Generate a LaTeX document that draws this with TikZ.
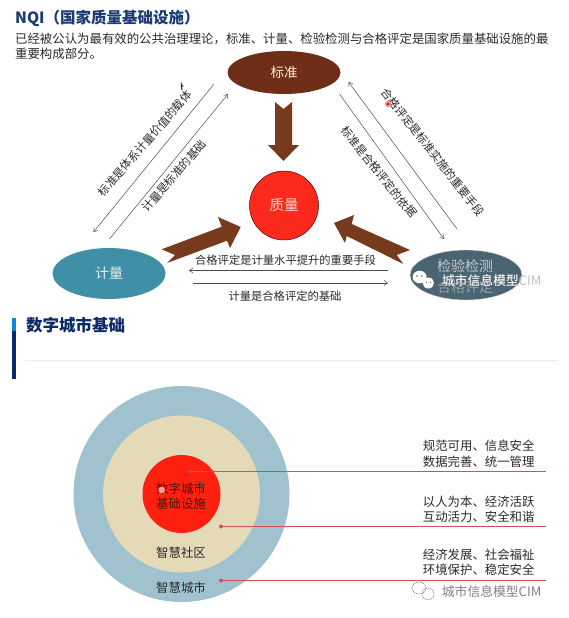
\documentclass[tikz,border=0pt]{standalone}
\usepackage{fontspec}
\setmainfont{Noto Sans CJK SC}
\usetikzlibrary{shapes.geometric,arrows.meta}
\definecolor{navy}{HTML}{1B3A73}
\definecolor{navyb}{HTML}{0B2A68}
\definecolor{brownc}{HTML}{6E2E17}
\definecolor{arrowb}{HTML}{773A1D}
\definecolor{tealc}{HTML}{3F8FA6}
\definecolor{slatec}{HTML}{4A6471}
\definecolor{redc}{HTML}{FB2A1C}
\definecolor{ringa}{HTML}{A0C2CF}
\definecolor{ringb}{HTML}{E5DAB8}
\definecolor{ringc}{HTML}{FF2010}
\definecolor{leadc}{HTML}{D0505E}
\definecolor{leadg}{HTML}{A05A60}
\definecolor{inktext}{HTML}{2A2A2A}
\definecolor{coretext}{HTML}{4A1208}
\newcommand{\fs}[1]{\fontsize{#1}{#1}\selectfont}
\tikzset{
  x=1pt,y=-1pt,
  txt/.style={inner sep=0pt,text=inktext,font=\fs{12.4}},
  lbl/.style={inner sep=0pt,text=inktext,font=\fs{11.3}},
  ell/.style={ellipse,inner sep=0pt,minimum width=#1},
  thin arrow/.style={draw=black!70,line width=0.5pt,-{Straight Barb[length=3.5pt,width=5pt]}},
  bigarrow/.style={fill=arrowb,draw=none},
  lead/.style={draw=leadc,line width=1pt},
  dot/.style={circle,fill=leadc,inner sep=0pt,minimum size=4pt},
  mark/.style={fill=#1,draw=none}
}
\begin{document}
\begin{tikzpicture}
\useasboundingbox (0,0) rectangle (568,618);
\fill[white] (0,0) rectangle (568,618);
% ---- upper panel
\node[anchor=west,inner sep=0pt,text=navy,font=\bfseries\fs{15.5}] (t1) at (15,18) {NQI（国家质量基础设施）};
\node[anchor=west,txt] (b1) at (15,39) {已经被公认为最有效的公共治理理论，标准、计量、检验检测与合格评定是国家质量基础设施的最};
\node[anchor=west,txt] (b2) at (15,54) {重要构成部分。};
% nodes
\node[ell=113pt,minimum height=43pt,fill=brownc,text=white!85!orange,font=\fs{13.5}] (std) at (284,72.5) {标准};
\node[ell=69pt,minimum height=69pt,fill=redc,draw=black!70!red,line width=0.5pt,text=white!85!red,font=\fs{14.5}] (q) at (284,205.5) {质量};
\node[ell=113pt,minimum height=51pt,fill=tealc,text=white!85!tealc,font=\fs{14}] (met) at (109,273.5) {计量};
\node[ell=112pt,minimum height=50pt,fill=slatec,draw=white!75!slatec,line width=0.4pt] (ins) at (466,275) {};
\node[inner sep=0pt,text=white!65!slatec,font=\fs{14}] (ins1) at (465,266) {检验检测};
\node[inner sep=0pt,text=white!40!slatec,font=\fs{14}] (ins2) at (465,287.5) {合格评定};
% big arrows
\fill[bigarrow] (275,102) -- (283.5,109) -- (292,102) -- (292,145) -- (299,145) -- (283.5,161) -- (268,145) -- (275,145) -- cycle;
\fill[bigarrow] (161.7,249.3) -- (221.7,226.7) -- (218,217) -- (240.7,227) -- (230,248) -- (227,240.7) -- (167,263) -- (175,255) -- cycle;
\fill[bigarrow] (334,223) -- (354,215) -- (351.7,224) -- (410,250) -- (396.7,255) -- (403.3,264) -- (346.7,236) -- (345,243) -- cycle;
% thin connectors
\coordinate (la1) at (214,84);  \coordinate (la2) at (93.5,232);
\coordinate (lb1) at (109.5,239);\coordinate (lb2) at (228,94);
\coordinate (ra1) at (339.5,94);\coordinate (ra2) at (444,239);
\coordinate (rb1) at (457,229); \coordinate (rb2) at (348.5,82);
\coordinate (ha1) at (388,270.5);\coordinate (ha2) at (189,270.5);
\coordinate (hb1) at (193,283); \coordinate (hb2) at (388,283);
\draw[thin arrow] (la1) -- (la2);
\draw[thin arrow] (lb1) -- (lb2);
\draw[thin arrow] (ra1) -- (ra2);
\draw[thin arrow] (rb1) -- (rb2);
\draw[thin arrow] (ha1) -- (ha2);
\draw[thin arrow] (hb1) -- (hb2);
% connector labels
\node[lbl,rotate=49] (l1) at (145,143.5) {标准是体系计量价值的载体};
\node[lbl,rotate=49] (l2) at (174,176) {计量是标准的基础};
\node[lbl,rotate=-52] (l3) at (433,152) {合格评定是标准实施的重要手段};
\node[lbl,rotate=-51] (l4) at (379,172) {标准是合格评定的依据};
\node[lbl] (l5) at (285.5,260) {合格评定是计量水平提升的重要手段};
\node[lbl] (l6) at (285,296) {计量是合格评定的基础};
% pointer marks
\fill[mark=black!80] (181,82) -- (183.5,87) -- (182,86.5) -- (182.6,90) -- (181.5,90) -- (180.8,86.5) -- cycle;
\fill[mark=red!45] (388,104) circle (3.2);
\fill[mark=red!80!black] (388,104) circle (1.3);
% watermark on upper panel
\fill[white] (419.6,277) ellipse (7 and 6.3);
\fill[white] (428.3,283) ellipse (5.7 and 5.5);
\fill[black!60] (417,276) circle (0.8) (422,276) circle (0.8) (426.5,282.5) circle (0.7) (430.5,282.5) circle (0.7);
\node[anchor=west,inner sep=0pt,text=black!40,font=\fs{12.8}] (w1s) at (442.2,280.8) {城市信息模型};
\node[anchor=west,inner sep=0pt,text=white,font=\fs{12.8}] (w1) at (441.7,280.3) {城市信息模型};
\node[anchor=west,inner sep=0pt,text=black!25,font=\fs{13}] (w1c) at (518.5,280.3) {CIM};
% ---- lower panel header
\fill[navyb] (12,331) rectangle (16,379);
\fill[cyan!70!blue] (12,318) rectangle (16,331);
\node[anchor=west,inner sep=0pt,text=navyb,font=\bfseries\fs{16.5}] (t2) at (26,325) {数字城市基础};
\coordinate (r1) at (25,360); \coordinate (r2) at (558,360);
\draw[black!7,line width=0.6pt] (r1) -- (r2);
% rings
\node[circle,inner sep=0pt,minimum size=216pt,fill=ringa] (c1) at (181.5,494) {};
\node[circle,inner sep=0pt,minimum size=157pt,fill=ringb] (c2) at (181.5,494) {};
\node[circle,inner sep=0pt,minimum size=78pt,fill=ringc] (c3) at (181.5,494) {};
\node[txt,text=coretext,align=center] (c3t) at (181,496) {数字城市\\[2.5pt]基础设施};
\node[txt] (c2t) at (181,553) {智慧社区};
\node[txt] (c1t) at (181,588) {智慧城市};
% leaders
\node[dot,fill=leadg,minimum size=3.5pt] (d1) at (190,471.5) {};
\node[dot] (d2) at (221,526.5) {};
\node[dot] (d3) at (221,580.5) {};
\coordinate (e1) at (545.7,471.5);
\coordinate (e2) at (545.7,526.5);
\coordinate (e3) at (545.7,580.5);
\draw[lead] (d2) -- (e2);
\draw[lead] (d3) -- (e3);
\draw[lead] (d1) -- (e1);
\node[txt,anchor=west] (a1) at (422.7,446) {规范可用、信息安全};
\node[txt,anchor=west] (a2) at (422.7,461.7) {数据完善、统一管理};
\node[txt,anchor=west] (a3) at (422.7,501.7) {以人为本、经济活跃};
\node[txt,anchor=west] (a4) at (422.7,516.7) {互动活力、安全和谐};
\node[txt,anchor=west] (a5) at (422.7,555) {经济发展、社会福祉};
\node[txt,anchor=west] (a6) at (422.7,570) {环境保护、稳定安全};
% pointer marks
\fill[mark=black!70] (200,481) -- (204,487) -- (202,487) -- (203,490) -- (201.5,490) -- (200.5,487.5) -- cycle;
\fill[mark=white!60!red] (161.7,490) circle (3.4);
% watermark lower
\draw[black!55,line width=0.5pt,dash pattern=on 1.5pt off 0.8pt] (419,588) ellipse (7 and 6);
\draw[black!55,line width=0.5pt,dash pattern=on 1.5pt off 0.8pt] (428,594) ellipse (6 and 5.8);
\node[anchor=west,inner sep=0pt,text=black!50,font=\fs{12.8}] (w2) at (441.7,591.7) {城市信息模型};
\node[anchor=west,inner sep=0pt,text=black!50,font=\fs{13}] (w2c) at (518.5,591.7) {CIM};
\end{tikzpicture}
\end{document}
